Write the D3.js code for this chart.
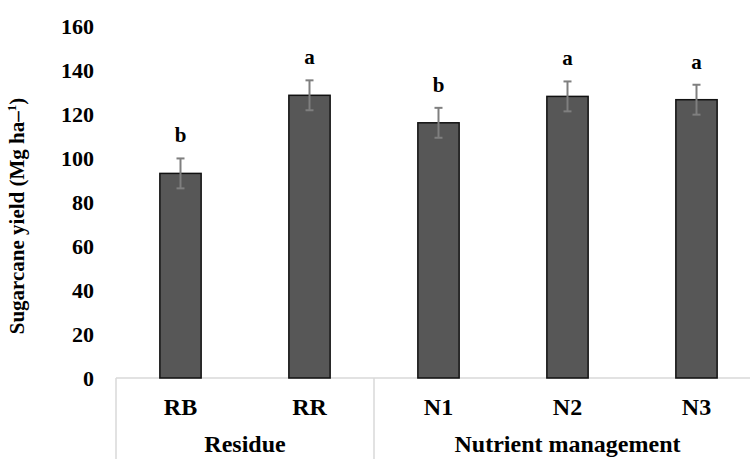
<!DOCTYPE html>
<html>
<head>
<meta charset="utf-8">
<script src="https://cdn.jsdelivr.net/npm/d3@7"></script>
<style>
  body { margin: 0; background: #fff; }
  text { font-family: "Liberation Serif", "Times New Roman", serif; font-weight: bold; }
</style>
</head>
<body>
<div id="chart"></div>
<script>
// Data
const categories = ["RB", "RR", "N1", "N2", "N3"];
const groups = ["Residue", "Residue", "Nutrient management", "Nutrient management", "Nutrient management"];
const yields = [93.0, 128.5, 116.0, 128.0, 126.5];
const errors = [6.8, 6.8, 6.8, 6.8, 6.8];
const letters = ["b", "a", "b", "a", "a"];
const yTicks = [0, 20, 40, 60, 80, 100, 120, 140, 160];

const W = 750, H = 459;
const margin = { top: 26, right: 0, bottom: 81, left: 116 };
const plotRight = 761;
const height = H - margin.top - margin.bottom;

const svg = d3.select("#chart")
    .append("svg")
    .attr("width", W)
    .attr("height", H);

const x = d3.scaleBand()
    .domain(categories)
    .range([margin.left, plotRight])
    .paddingInner(0.68)
    .paddingOuter(0.34);

const y = d3.scaleLinear()
    .domain([0, 160])
    .range([margin.top + height, margin.top]);

const y0 = y(0);

// y tick labels (no axis line)
svg.selectAll(".ytick")
    .data(yTicks)
    .enter()
    .append("text")
    .attr("x", 94)
    .attr("y", d => y(d))
    .attr("dy", "0.35em")
    .attr("text-anchor", "end")
    .attr("font-size", "22px")
    .attr("fill", "#000")
    .text(d => d);

// y axis title
svg.append("text")
    .attr("transform", `translate(24, ${(y(0) + y(160)) / 2 + 14}) rotate(-90)`)
    .attr("text-anchor", "middle")
    .attr("font-size", "21px")
    .attr("fill", "#000")
    .html("Sugarcane yield (Mg ha<tspan>–</tspan><tspan dy='-8' font-size='13px'>1</tspan><tspan dy='8'>)</tspan>");

// category box lines
const step = x.step();
const groupStart = [0, 2, 5];
const gridColor = "#d9d9d9";

svg.append("line")
    .attr("x1", margin.left).attr("x2", plotRight)
    .attr("y1", y0).attr("y2", y0)
    .attr("stroke", gridColor).attr("stroke-width", 1.5);

groupStart.forEach(i => {
    const xx = margin.left + i * step;
    svg.append("line")
        .attr("x1", xx).attr("x2", xx)
        .attr("y1", y0).attr("y2", H)
        .attr("stroke", gridColor).attr("stroke-width", 1.5);
});

// bars
svg.selectAll(".bar")
    .data(categories)
    .enter()
    .append("rect")
    .attr("x", d => x(d))
    .attr("y", (d, i) => y(yields[i]))
    .attr("width", x.bandwidth())
    .attr("height", (d, i) => y0 - y(yields[i]))
    .attr("fill", "#575757")
    .attr("stroke", "#111")
    .attr("stroke-width", 1.5);

// error bars
const capW = 8;
categories.forEach((c, i) => {
    const cx = x(c) + x.bandwidth() / 2;
    const top = y(yields[i] + errors[i]);
    const bot = y(yields[i] - errors[i]);
    const g = svg.append("g")
        .attr("stroke", "#7f7f7f")
        .attr("stroke-width", 2);
    g.append("line").attr("x1", cx).attr("x2", cx).attr("y1", top).attr("y2", bot);
    g.append("line").attr("x1", cx - capW / 2).attr("x2", cx + capW / 2).attr("y1", top).attr("y2", top);
    g.append("line").attr("x1", cx - capW / 2).attr("x2", cx + capW / 2).attr("y1", bot).attr("y2", bot);

    // significance letters
    svg.append("text")
        .attr("x", cx)
        .attr("y", top - 16)
        .attr("text-anchor", "middle")
        .attr("font-size", "21px")
        .attr("fill", "#000")
        .text(letters[i]);
});

// category labels
svg.selectAll(".cat")
    .data(categories)
    .enter()
    .append("text")
    .attr("x", d => x(d) + x.bandwidth() / 2)
    .attr("y", 415)
    .attr("text-anchor", "middle")
    .attr("font-size", "24px")
    .attr("fill", "#000")
    .text(d => d);

// group labels
const groupNames = ["Residue", "Nutrient management"];
groupNames.forEach(name => {
    const idx = categories.filter((c, i) => groups[i] === name);
    const x1 = x(idx[0]) + x.bandwidth() / 2;
    const x2 = x(idx[idx.length - 1]) + x.bandwidth() / 2;
    svg.append("text")
        .attr("x", (x1 + x2) / 2)
        .attr("y", 452)
        .attr("text-anchor", "middle")
        .attr("font-size", "24px")
        .attr("fill", "#000")
        .text(name);
});
</script>
</body>
</html>
